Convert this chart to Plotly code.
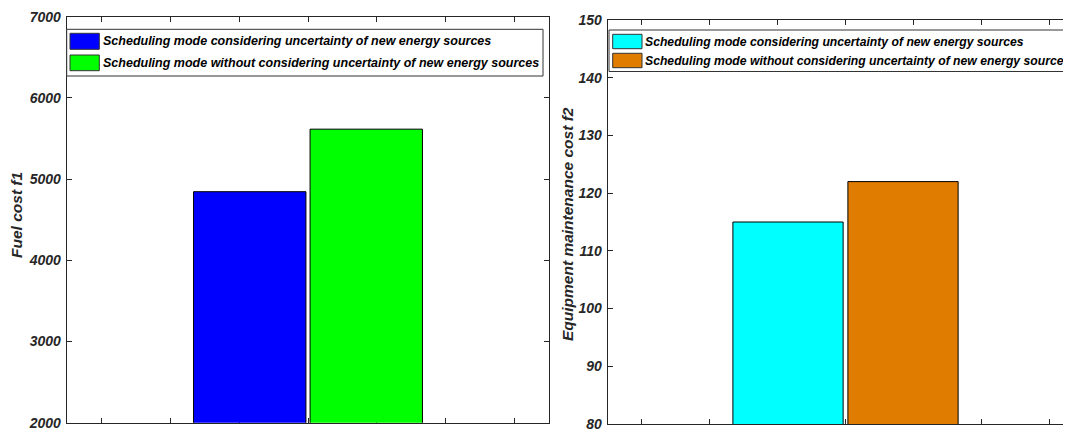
import plotly.graph_objects as go

# ---- data ----
series_names = [
    "Scheduling mode considering uncertainty of new energy sources",
    "Scheduling mode without considering uncertainty of new energy sources",
]
fuel_cost = [4845, 5615]          # Fuel cost f1
maint_cost = [115, 122]           # Equipment maintenance cost f2
left_colors = ["#0000FF", "#00FF00"]
right_colors = ["#00FFFF", "#E07C00"]
y1_ticks = [2000, 3000, 4000, 5000, 6000, 7000]
y2_ticks = [80, 90, 100, 110, 120, 130, 140, 150]
x_ticks = [1, 2, 3, 4, 5, 6, 7]
group_center = 4

# the page body adds an 8px margin, so the figure is offset by 8px
OFF = 8
W, H = 1071 - OFF, 433 - OFF
def px(x):
    return (x - OFF) / W
def py(y):
    return 1 - (y - OFF) / H

FONT = "Liberation Sans, Arial, sans-serif"
AX = "#262626"

fig = go.Figure()
bar_w = 1.63
offsets = [-bar_w - 0.03, 0.03]
for i in range(2):
    fig.add_trace(go.Bar(x=[group_center], y=[fuel_cost[i]], width=bar_w, offset=offsets[i],
                         marker=dict(color=left_colors[i], line=dict(color="#000000", width=1)),
                         name=series_names[i], showlegend=False, xaxis="x", yaxis="y"))
    fig.add_trace(go.Bar(x=[group_center], y=[maint_cost[i]], width=bar_w - 0.01, offset=offsets[i],
                         marker=dict(color=right_colors[i], line=dict(color="#000000", width=1)),
                         name=series_names[i], showlegend=False, xaxis="x2", yaxis="y2"))

common_x = dict(tickmode="array", tickvals=x_ticks, ticktext=[""] * len(x_ticks), ticks="inside",
                ticklen=5, tickcolor=AX, showline=True, linecolor=AX, linewidth=1,
                showgrid=False, zeroline=False, layer="below traces", mirror="ticks", fixedrange=True)
common_y = dict(tickmode="array", ticks="inside", ticklen=5, tickcolor=AX, showline=True,
                linecolor=AX, linewidth=1, showgrid=False, zeroline=False,
                ticklabelstandoff=2, fixedrange=True)

fig.update_layout(
    width=W, height=H, margin=dict(l=0, r=0, t=0, b=0, autoexpand=False),
    paper_bgcolor="white", plot_bgcolor="white", barmode="overlay", showlegend=False,
    font=dict(family=FONT),
    xaxis=dict(domain=[px(66.7), px(549.3)], range=[0.5, 7.5], anchor="y", **common_x),
    yaxis=dict(domain=[py(422.7), py(16.7)], range=[2000, 7000], anchor="x",
               tickvals=y1_ticks, ticktext=[str(v) for v in y1_ticks], mirror="ticks", **common_y),
    xaxis2=dict(domain=[px(607.7), 1.0], range=[0.5, 7.5 - (1084 - 1071) / 68.0], anchor="y2", **common_x),
    yaxis2=dict(domain=[py(424), py(20)], range=[80, 150], anchor="x2",
                tickvals=y2_ticks, ticktext=[str(v) for v in y2_ticks], mirror=False, **common_y),
)
fig.update_yaxes(tickfont=dict(family=FONT, size=14, color=AX, weight="bold", style="italic"))

shapes = []
annotations = []

annotations.append(dict(x=px(16), y=py(215), xref="paper", yref="paper", text="Fuel cost f1",
                        textangle=-90, showarrow=False, xanchor="center", yanchor="middle",
                        font=dict(family=FONT, size=15.5, color=AX, weight="bold", style="italic")))
annotations.append(dict(x=px(568), y=py(224), xref="paper", yref="paper",
                        text="Equipment maintenance cost f2", textangle=-90, showarrow=False,
                        xanchor="center", yanchor="middle",
                        font=dict(family=FONT, size=15.5, color=AX, weight="bold", style="italic")))

def legend(box, swatches, text_x, colors, fsize):
    x0, y0, x1, y1 = box
    shapes.append(dict(type="rect", xref="paper", yref="paper", x0=px(x0), x1=px(x1),
                       y0=py(y1), y1=py(y0), line=dict(color="#333333", width=1),
                       fillcolor="white", layer="above"))
    for (sx0, sy0, sx1, sy1), c, name in zip(swatches, colors, series_names):
        shapes.append(dict(type="rect", xref="paper", yref="paper", x0=px(sx0), x1=px(sx1),
                           y0=py(sy1), y1=py(sy0), line=dict(color="#333333", width=1),
                           fillcolor=c, layer="above"))
        annotations.append(dict(x=px(text_x), y=py((sy0 + sy1) / 2), xref="paper", yref="paper",
                                text=name, showarrow=False, xanchor="left", yanchor="middle",
                                font=dict(family=FONT, size=fsize, color="#000000",
                                          weight="bold", style="italic")))

legend((66.7, 29.3, 543, 76), [(70, 33.3, 99.3, 49.3), (70, 55, 99.3, 70.7)], 101, left_colors, 12.5)
legend((609, 30, 1090, 71.5), [(612.7, 34.3, 642, 48.7), (612.7, 53.3, 642, 67.7)], 643, right_colors, 12.2)

fig.update_layout(shapes=shapes, annotations=annotations)
fig.write_html("out.html")
